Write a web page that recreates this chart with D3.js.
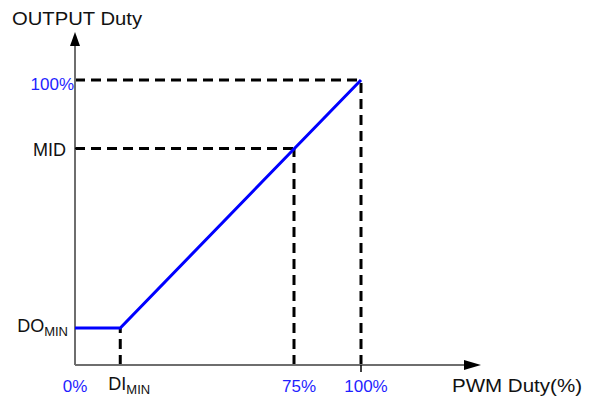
<!DOCTYPE html>
<html><head><meta charset="utf-8">
<script src="https://cdn.jsdelivr.net/npm/d3@7"></script>
<style>body{margin:0;background:#fff}svg{display:block}text{font-family:"Liberation Sans",Arial,sans-serif}</style>
</head><body><svg id="c" width="592" height="403"></svg>
<script>
// data
const xTickValues = [0, 15.5, 75, 100];
const xTickLabels = ["0%", "DI|MIN", "75%", "100%"];
const xTickBlue = [true, false, true, true];
const yTickValues = [13, 76, 100];
const yTickLabels = ["DO|MIN", "MID", "100%"];
const yTickBlue = [false, false, true];
const curveX = [0, 15.5, 100];
const curveY = [13, 13, 100];
const xTitle = "PWM Duty(%)";
const yTitle = "OUTPUT Duty";

const svg = d3.select("#c");
const x = d3.scaleLinear().domain([0, 75, 100]).range([75, 294, 361]);
const y = d3.scaleLinear().domain([0, 100]).range([365, 80]);
const blue = "#1f1fff";

// dashed guides
const guides = [
  [[0, 100], [100, 100]],
  [[0, 76], [75, 76]],
  [[100, 0], [100, 100]],
  [[75, 0], [75, 76]],
  [[15.5, 0], [15.5, 13]]
];
const line = d3.line().x(d => x(d[0])).y(d => y(d[1]));
svg.selectAll(".g").data(guides).join("path")
  .attr("d", line).attr("fill", "none").attr("stroke", "#000")
  .attr("stroke-width", 3).attr("stroke-dasharray", "10,6");

// axes
const ax = svg.append("g").attr("stroke", "#6e6e6e").attr("stroke-width", 2);
ax.append("line").attr("x1", x(0)).attr("x2", 466).attr("y1", y(0)).attr("y2", y(0));
ax.append("line").attr("x1", x(0)).attr("x2", x(0)).attr("y1", y(0)).attr("y2", 44);
svg.append("path").attr("d", `M${x(0)-5},46 L${x(0)},32 L${x(0)+5},46 Z`).attr("fill", "#000");
svg.append("path").attr("d", `M464,${y(0)-5} L481,${y(0)} L464,${y(0)+5} Z`).attr("fill", "#000");
// small ticks
svg.append("line").attr("x1", x(100)).attr("x2", x(100)).attr("y1", y(0)).attr("y2", y(0)+7).attr("stroke", "#000").attr("stroke-width", 1.5);
svg.append("line").attr("x1", x(0)).attr("x2", x(0)+4).attr("y1", y(76)).attr("y2", y(76)).attr("stroke", "#000").attr("stroke-width", 2);

// curve
svg.append("path").datum(curveX.map((v, i) => [v, curveY[i]]))
  .attr("d", line).attr("fill", "none").attr("stroke", "#0000ff").attr("stroke-width", 3);

function addLabel(g, txt, size, subSize) {
  const parts = txt.split("|");
  g.append("tspan").text(parts[0]).attr("font-size", size);
  if (parts[1]) g.append("tspan").text(parts[1]).attr("font-size", subSize).attr("dy", 4);
}
// x tick labels
const xOff = [0, 9, 5, 5];
xTickValues.forEach((v, i) => {
  const t = svg.append("text").attr("x", x(v) + xOff[i]).attr("y", i === 1 ? 390 : 392)
    .attr("text-anchor", "middle").attr("fill", xTickBlue[i] ? blue : "#111");
  if (xTickBlue[i]) addLabel(t, xTickLabels[i], 17, 12);
  else addLabel(t, xTickLabels[i], 18, 13);
});
// y tick labels
const yPos = [[68, 4], [66, 8], [74, 10]];
yTickValues.forEach((v, i) => {
  const t = svg.append("text").attr("x", yPos[i][0]).attr("y", y(v) + yPos[i][1])
    .attr("text-anchor", "end").attr("fill", yTickBlue[i] ? blue : "#111");
  if (yTickBlue[i]) addLabel(t, yTickLabels[i], 17, 12);
  else addLabel(t, yTickLabels[i], 18, 13);
});
// titles
svg.append("text").attr("x", 12).attr("y", 25).attr("font-size", 18).attr("fill", "#111")
  .attr("textLength", 130).attr("lengthAdjust", "spacingAndGlyphs").text(yTitle);
svg.append("text").attr("x", 452).attr("y", 392).attr("font-size", 18).attr("fill", "#111")
  .attr("textLength", 130).attr("lengthAdjust", "spacingAndGlyphs").text(xTitle);
</script></body></html>
